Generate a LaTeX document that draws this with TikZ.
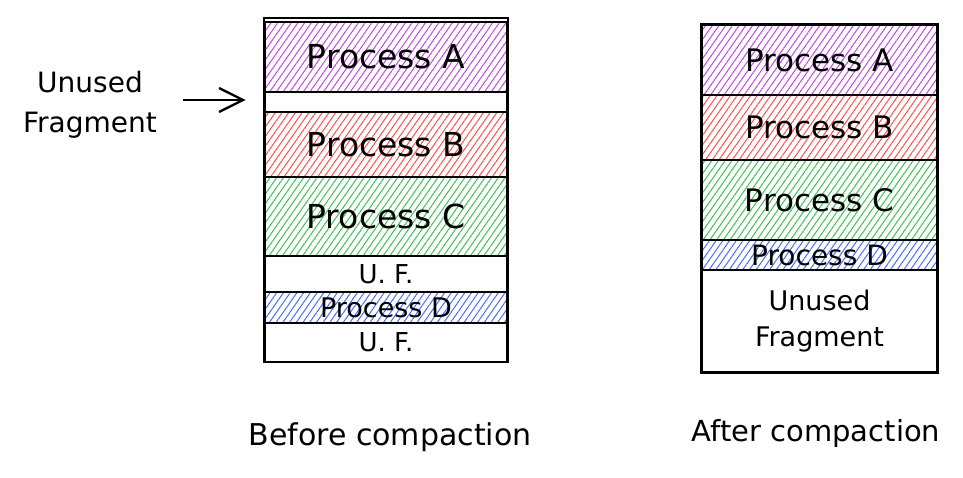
\documentclass[tikz,border=0pt]{standalone}
\usepackage{fontspec}
\setmainfont{DejaVu Sans}
\usetikzlibrary{patterns.meta,arrows.meta}
\definecolor{hPurple}{HTML}{BE4BDB}
\definecolor{hRed}{HTML}{FA5252}
\definecolor{hGreen}{HTML}{40C057}
\definecolor{hBlue}{HTML}{4C6EF5}
\tikzset{
  membox/.style={draw=black, line width=2.6pt, rectangle, inner sep=0pt, align=center},
  hatch/.style={pattern={Lines[angle=55,distance=5.5pt,line width=1pt]}, pattern color=#1},
  frame/.style={draw=black, line width=2pt, rectangle, inner sep=0pt},
  lbl/.style={inner sep=0pt, align=center},
  pointer/.style={draw=black, line width=2.4pt, -{Straight Barb[length=24pt,width=24pt,line width=2.4pt]}}
}
\begin{document}
\begin{tikzpicture}[x=1pt,y=-1pt]
\useasboundingbox (0,0) rectangle (963,477);
% ---------- left column (before) ----------
\node[frame, minimum width=244pt, minimum height=344pt] (frameL) at (386,190) {};
\node[membox, hatch=hPurple, minimum width=242pt, minimum height=70pt, font=\fontsize{33}{36}\selectfont] (lA) at (386,57) {Process A};
\node[membox, fill=white, minimum width=242pt, minimum height=20pt] (gap) at (386,102) {};
\node[membox, hatch=hRed, minimum width=242pt, minimum height=65pt, font=\fontsize{33}{36}\selectfont] (lB) at (386,144.5) {Process B};
\node[membox, hatch=hGreen, minimum width=242pt, minimum height=79pt, font=\fontsize{33}{36}\selectfont] (lC) at (386,216.5) {Process C};
\node[membox, minimum width=242pt, minimum height=36pt, font=\fontsize{26}{30}\selectfont] (lUF1) at (386,274) {U. F.};
\node[membox, hatch=hBlue, minimum width=242pt, minimum height=31pt, font=\fontsize{27}{30}\selectfont] (lD) at (386,307.5) {Process D};
\node[membox, minimum width=242pt, minimum height=39pt, font=\fontsize{26}{30}\selectfont] (lUF2) at (386,342.5) {U. F.};
% side label and arrow
\node[lbl, font=\fontsize{28}{40}\selectfont] (ufL) at (90,105) {Unused\\Fragment};
\coordinate (arS) at (183,100);
\draw[pointer] (arS) -- ([xshift=-18pt,yshift=2pt]gap.west);
\node[lbl, font=\fontsize{30}{34}\selectfont] (before) at (390,437) {Before compaction};
% ---------- right column (after) ----------
\node[frame, minimum width=237pt, minimum height=349pt] (frameR) at (819.5,198) {};
\node[membox, hatch=hPurple, minimum width=235pt, minimum height=70pt, font=\fontsize{31}{36}\selectfont] (rA) at (819.5,60) {Process A};
\node[membox, hatch=hRed, minimum width=235pt, minimum height=65pt, font=\fontsize{31}{36}\selectfont] (rB) at (819.5,127.5) {Process B};
\node[membox, hatch=hGreen, minimum width=235pt, minimum height=80pt, font=\fontsize{31}{36}\selectfont] (rC) at (819.5,200) {Process C};
\node[membox, hatch=hBlue, minimum width=235pt, minimum height=30pt, font=\fontsize{28}{30}\selectfont] (rD) at (819.5,255) {Process D};
\node[membox, minimum width=235pt, minimum height=102pt, font=\fontsize{27}{36}\selectfont] (rUF) at (819.5,321) {Unused\\Fragment};
\node[lbl, font=\fontsize{29}{34}\selectfont] (after) at (816,433) {After compaction};
\end{tikzpicture}
\end{document}
